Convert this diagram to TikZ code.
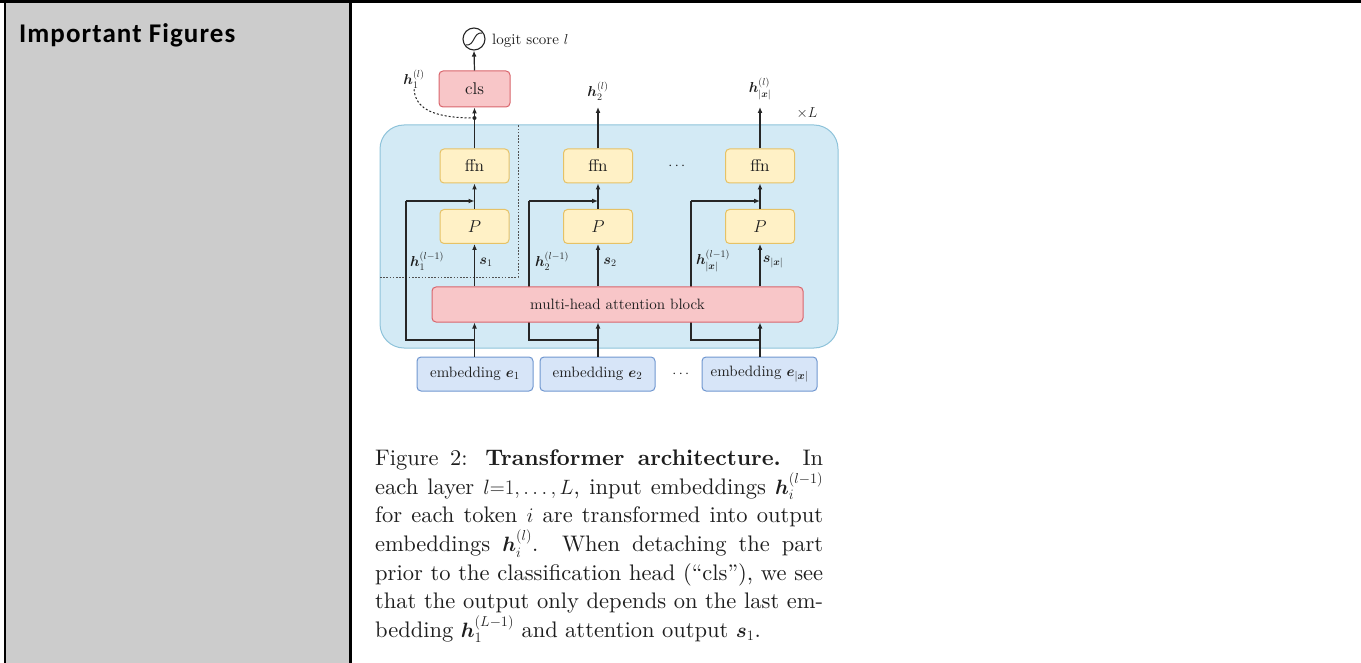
\documentclass[tikz,border=0pt]{standalone}
\usepackage{fontspec}
\usepackage{amsmath}
\usepackage{bm}
\usetikzlibrary{arrows.meta}
\setmainfont{lmroman10}[Extension=.otf, UprightFont=*-regular, BoldFont=*-bold,
  ItalicFont=*-italic, BoldItalicFont=*-bolditalic]
\newfontfamily\headfont{Carlito}[LetterSpace=4]

\definecolor{cellgray}{HTML}{CCCCCC}
\definecolor{layerfill}{HTML}{D3EAF5}
\definecolor{layerdraw}{HTML}{8EC3DA}
\definecolor{yfill}{HTML}{FFF1C6}
\definecolor{ydraw}{HTML}{E6C266}
\definecolor{rfill}{HTML}{F8C6C8}
\definecolor{rdraw}{HTML}{D9656C}
\definecolor{bfill}{HTML}{D7E5F8}
\definecolor{bdraw}{HTML}{7097D0}
\definecolor{wire}{HTML}{262626}
\definecolor{ink}{HTML}{1E1E1E}

\begin{document}
\begin{tikzpicture}[x=1pt,y=-1pt,
  box/.style={draw, line width=1pt, rounded corners=4pt, inner sep=0pt,
              text=ink, font=\fontsize{17}{19}\selectfont},
  ybox/.style={box, fill=yfill, draw=ydraw, minimum width=69pt, minimum height=34pt},
  rbox/.style={box, fill=rfill, draw=rdraw},
  ebox/.style={box, fill=bfill, draw=bdraw, minimum height=34pt,
               font=\fontsize{15}{18}\selectfont},
  layer/.style={draw=layerdraw, fill=layerfill, line width=1pt, rounded corners=24pt,
                inner sep=0pt},
  lbl/.style={inner sep=0pt, text=ink, font=\fontsize{15}{18}\selectfont},
  slbl/.style={inner sep=0pt, text=ink, font=\fontsize{14.5}{16}\selectfont},
  wireline/.style={draw=wire, line width=1.2pt},
  flow/.style={wireline, -{Latex[length=6pt,width=5pt]}},
  detach/.style={draw=wire!80, line width=0.8pt, dash pattern=on 1.6pt off 1.6pt},
  sigm/.style={circle, draw=wire, line width=1.1pt, minimum size=22pt, inner sep=0pt,
    path picture={
      \draw[wire, line width=1pt]
        ([xshift=-8pt,yshift=-6pt]path picture bounding box.center)
        .. controls ([xshift=1pt,yshift=-7pt]path picture bounding box.center)
        and ([xshift=-1pt,yshift=7pt]path picture bounding box.center)
        .. ([xshift=8pt,yshift=6pt]path picture bounding box.center);}},
]
\useasboundingbox (0,0) rectangle (1361,663);

% table cell and rules
\fill[cellgray] (6,3.5) rectangle (348.5,663);
\draw[line width=3.5pt] (0,1.75) -- (1361,1.75);
\draw[line width=2pt] (5,3.5) -- (5,663);
\draw[line width=3pt] (350,0) -- (350,663);
\node[anchor=base west, inner sep=0pt, font=\headfont\bfseries\fontsize{27}{30}\selectfont]
  (head) at (19,43) {Important Figures};

% transformer layer background
\node[layer, minimum width=458pt, minimum height=223pt] (layer) at (609,236.5) {};
\node[lbl] (times) at (807,113) {$\times L$};

% part detached before the classification head
\coordinate (dA) at (380,277);
\coordinate (dB) at (518,277);
\coordinate (dC) at (518,125);
\draw[detach] (dA) -- (dB) -- (dC);

% per-token columns
\foreach \i/\x/\lx in {1/474.5/406, 2/598/529, 3/760/691} {
  \node[ybox] (ffn\i) at (\x,166) {ffn};
  \node[ybox] (P\i) at (\x,226.5) {$P$};
  \coordinate (j\i) at (\x,201);
  \coordinate (b\i) at (\x,340);
  \coordinate (k\i) at (\lx,340);
  \coordinate (m\i) at (\lx,201);
}
\node[lbl] (dotsA) at (678,166) {$\cdots$};

% residual paths run behind the attention block
\foreach \i in {1,2,3} {
  \draw[wireline] (b\i) -- (k\i) -- (m\i);
  \draw[flow] (m\i) -- (j\i);
}

\node[rbox, minimum width=371pt, minimum height=35pt,
      font=\fontsize{15}{18}\selectfont] (mha) at (617.5,304.5) {multi-head attention block};

\node[ebox, minimum width=116pt] (emb1) at (475,374) {embedding $\bm{e}_1$};
\node[ebox, minimum width=115pt] (emb2) at (597.5,374) {embedding $\bm{e}_2$};
\node[ebox, minimum width=115pt] (emb3) at (759.5,374) {embedding $\bm{e}_{|\bm{x}|}$};
\node[lbl] (dotsB) at (682,374) {$\cdots$};

\foreach \i in {1,2,3} {
  \draw[flow] (emb\i.north -| b\i) -- (mha.south -| b\i);
  \draw[flow] (mha.north -| P\i) -- (P\i.south);
  \draw[flow] (P\i.north) -- (ffn\i.south);
}

% residual and attention labels
\node[slbl] (hin1) at (427,261) {$\bm{h}_1^{(l-1)}$};
\node[slbl] (s1) at (486,262) {$\bm{s}_1$};
\node[slbl] (hin2) at (552,261) {$\bm{h}_2^{(l-1)}$};
\node[slbl] (s2) at (610,262) {$\bm{s}_2$};
\node[slbl] (hin3) at (713,261) {$\bm{h}_{|\bm{x}|}^{(l-1)}$};
\node[slbl] (s3) at (773,262) {$\bm{s}_{|\bm{x}|}$};

% classification head
\node[rbox, minimum width=71pt, minimum height=36pt] (cls) at (474.5,89) {cls};
\node[sigm] (sig) at (474,39) {};
\node[lbl, anchor=west] (logit) at (492,41) {logit score $l$};
\draw[flow] (ffn1.north) -- (cls.south);
\draw[flow] (cls.north) -- (sig.south);

% layer outputs
\node[slbl] (hout1) at (414,79) {$\bm{h}_1^{(l)}$};
\coordinate (d1) at (474.5,118);
\draw[wire, line width=1pt, dash pattern=on 2pt off 2pt]
  (d1) .. controls (428,118) and (415,106) .. (hout1.south);
\fill[wire] (d1) circle (2pt);

\coordinate (o2) at (598,107);
\coordinate (o3) at (760,107);
\draw[flow] (ffn2.north) -- (o2);
\draw[flow] (ffn3.north) -- (o3);
\node[slbl] (hout2) at (598,91) {$\bm{h}_2^{(l)}$};
\node[slbl] (hout3) at (760,89) {$\bm{h}_{|\bm{x}|}^{(l)}$};

% caption
\node[anchor=north west, inner sep=0pt, text width=448pt, align=justify, text=ink,
      font=\fontsize{22.5}{28.67}\selectfont] (caption) at (375,449.5) {%
Figure 2: \textbf{Transformer architecture.} In\linebreak
each layer $l{=}1,\dots,L$, input embeddings $\bm{h}_i^{(l-1)}$\linebreak
for each token $i$ are transformed into output\linebreak
embeddings $\bm{h}_i^{(l)}$. When detaching the part\linebreak
prior to the classification head (``cls''), we see\linebreak
that the output only depends on the last em-\linebreak
bedding $\bm{h}_1^{(L-1)}$ and attention output $\bm{s}_1$.};
\end{tikzpicture}
\end{document}
